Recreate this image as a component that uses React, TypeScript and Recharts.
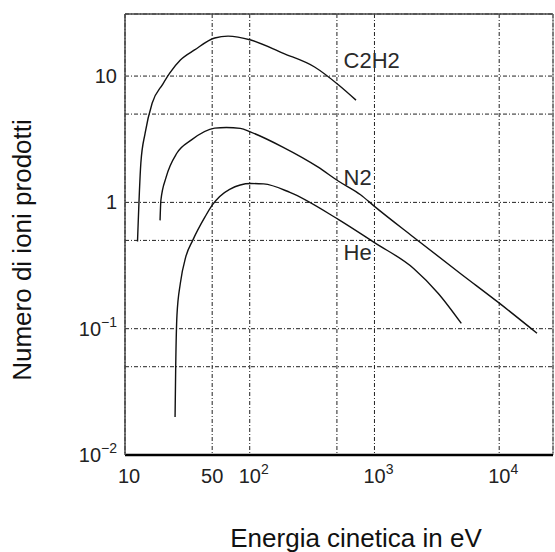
import { LineChart, Line, XAxis, YAxis, CartesianGrid, ReferenceLine, ReferenceDot } from 'recharts';

const FONT = 'Liberation Sans, Arial, Helvetica, sans-serif';

// energy (eV) / number of ions
const c2h2Energy = [12.6, 13.4, 14.5, 16.5, 20.1, 22.9, 27.8, 36.1, 52.4, 67, 102, 184, 331, 516, 711];
const c2h2Ions = [0.49, 2.05, 3.54, 6.1, 8.65, 10.6, 13.4, 16.1, 20.0, 20.7, 19.3, 15.2, 11.8, 8.5, 6.45];

const n2Energy = [19.1, 19.4, 21.4, 26.1, 33.9, 52.4, 65, 84, 102, 184, 354, 516, 773, 1000, 2060, 4970, 9960, 20100];
const n2Ions = [0.72, 1.04, 1.59, 2.46, 3.11, 3.87, 3.92, 3.85, 3.6, 2.74, 1.9, 1.47, 1.15, 0.93, 0.53, 0.27, 0.16, 0.092];

const heEnergy = [25.2, 25.5, 26.1, 27.8, 30.7, 34.9, 43.9, 50, 69, 102, 129, 210, 516, 1000, 2060, 3250, 4970];
const heIons = [0.02, 0.05, 0.128, 0.23, 0.37, 0.5, 0.77, 0.95, 1.27, 1.41, 1.4, 1.2, 0.73, 0.48, 0.3, 0.19, 0.11];

const X_DOMAIN = [10, 27000];
const Y_DOMAIN = [0.01, 31];

const X_TICKS = [10, 50, 100, 500, 1000, 5000, 10000];
const xTickBase = ['10', '50', '10', '', '10', '', '10'];
const xTickSup = ['', '', '2', '', '3', '', '4'];

const Y_TICKS = [0.01, 0.05, 0.1, 0.5, 1, 5, 10];
const yTickBase = ['10', '', '10', '', '1', '', '10'];
const yTickSup = ['−2', '', '−1', '', '', '', ''];

const curveNames = ['C2H2', 'N2', 'He'];
const curveLabelX = [555, 555, 555];
const curveLabelY = [13.4, 1.58, 0.4];

const toPoints = (xs: number[], ys: number[]) => xs.map((x, i) => ({ x, y: ys[i] }));

const c2h2 = toPoints(c2h2Energy, c2h2Ions);
const n2 = toPoints(n2Energy, n2Ions);
const he = toPoints(heEnergy, heIons);

const XTick = (props: any) => {
  const { x, y, payload } = props;
  const i = X_TICKS.indexOf(payload.value);
  const base = xTickBase[i];
  const sup = xTickSup[i];
  if (!base) return <g />;
  if (sup) {
    return (
      <text x={x - 11} y={y + 28} textAnchor="start" fontSize={20} fontFamily={FONT} fill="#222">
        {base}
        <tspan dy={-9} fontSize={14}>{sup}</tspan>
      </text>
    );
  }
  return (
    <text x={x + (i === 0 ? 4 : 0)} y={y + 28} textAnchor="middle" fontSize={20} fontFamily={FONT} fill="#222">
      {base}
    </text>
  );
};

const YTick = (props: any) => {
  const { x, y, payload } = props;
  const i = Y_TICKS.indexOf(payload.value);
  const base = yTickBase[i];
  const sup = yTickSup[i];
  if (!base) return <g />;
  return (
    <text x={x} y={y} dy={7} textAnchor="end" fontSize={20} fontFamily={FONT} fill="#222">
      {base}
      {sup && <tspan dy={-9} fontSize={14}>{sup}</tspan>}
    </text>
  );
};

export default function App() {
  return (
    <div style={{ position: 'absolute', left: 0, top: 0, width: 555, height: 552, background: '#fff' }}>
      <LineChart width={555} height={552} margin={{ top: 14, right: 2, left: 0, bottom: 0 }}>
        <CartesianGrid stroke="#222" strokeDasharray="4 2 1 2" />
        <XAxis
          type="number"
          dataKey="x"
          scale="log"
          domain={X_DOMAIN}
          allowDataOverflow
          ticks={X_TICKS}
          tick={<XTick />}
          tickLine={false}
          tickSize={0}
          tickMargin={0}
          height={97}
          axisLine={{ stroke: '#000', strokeWidth: 2.5 }}
        />
        <YAxis
          type="number"
          dataKey="y"
          scale="log"
          domain={Y_DOMAIN}
          allowDataOverflow
          ticks={Y_TICKS}
          tick={<YTick />}
          tickLine={false}
          tickSize={0}
          tickMargin={8}
          width={125}
          axisLine={{ stroke: '#444', strokeWidth: 1.5 }}
        />
        <ReferenceLine y={Y_DOMAIN[1]} stroke="#444" strokeWidth={1.5} />
        <ReferenceLine x={X_DOMAIN[1]} stroke="#666" strokeWidth={1} />
        <Line data={c2h2} dataKey="y" type="monotone" stroke="#111" strokeWidth={1.4} dot={false} isAnimationActive={false} />
        <Line data={n2} dataKey="y" type="monotone" stroke="#111" strokeWidth={1.4} dot={false} isAnimationActive={false} />
        <Line data={he} dataKey="y" type="monotone" stroke="#111" strokeWidth={1.4} dot={false} isAnimationActive={false} />
        {curveNames.map((name, i) => (
          <ReferenceDot
            key={name}
            x={curveLabelX[i]}
            y={curveLabelY[i]}
            r={1}
            fill="none"
            stroke="none"
            label={{ value: name, position: 'right', offset: 0, fill: '#2a2a2a', fontSize: 22, fontFamily: FONT }}
          />
        ))}
      </LineChart>
      <svg width={555} height={552} style={{ position: 'absolute', left: 0, top: 0, pointerEvents: 'none' }}>
        <text x={356} y={547} textAnchor="middle" fontSize={26} fontFamily={FONT} fill="#111">
          Energia cinetica in eV
        </text>
        <text x={31} y={250} transform="rotate(-90 31 250)" textAnchor="middle" fontSize={26} fontFamily={FONT} fill="#111">
          Numero di ioni prodotti
        </text>
      </svg>
    </div>
  );
}
